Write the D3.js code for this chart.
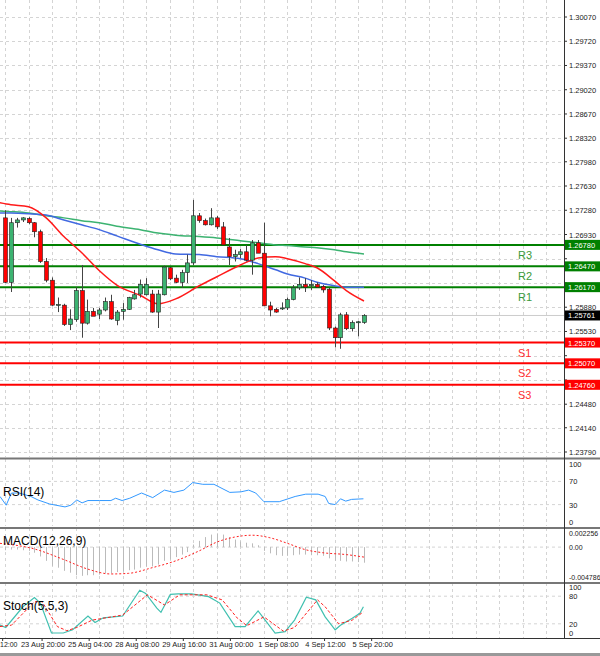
<!DOCTYPE html>
<html><head><meta charset="utf-8">
<script src="https://cdn.jsdelivr.net/npm/d3@7"></script>
<style>body{margin:0;background:#fff}svg{display:block}text{font-family:"Liberation Sans",Arial,sans-serif}</style>
</head><body>
<div id="chart"></div>
<script>
// candles [open, high, low, close], 4H bars
const candles = [
[1.2717,1.2728,1.2623,1.2624],[1.2624,1.2717,1.2610,1.2710],[1.2710,1.2717,1.2703,1.2714],[1.2714,1.2718,1.2711,1.2717],
[1.2716,1.2718,1.2708,1.2710],[1.2710,1.2711,1.2689,1.2697],[1.2697,1.2700,1.2652,1.2654],[1.2654,1.2659,1.2624,1.2627],
[1.2627,1.2631,1.2590,1.2591],[1.2591,1.2602,1.2581,1.2592],[1.2591,1.2593,1.2561,1.2563],[1.2563,1.2585,1.2555,1.2571],
[1.2570,1.2617,1.2567,1.2612],[1.2612,1.2649,1.2544,1.2565],[1.2565,1.2599,1.2563,1.2582],[1.2582,1.2587,1.2576,1.2575],
[1.2578,1.2587,1.2571,1.2584],[1.2584,1.2602,1.2582,1.2596],[1.2596,1.2606,1.2570,1.2571],[1.2569,1.2584,1.2562,1.2581],
[1.2582,1.2594,1.2570,1.2585],[1.2585,1.2603,1.2584,1.2602],[1.2600,1.2613,1.2599,1.2606],[1.2607,1.2628,1.2602,1.2621],
[1.2606,1.2630,1.2605,1.2621],[1.2607,1.2613,1.2580,1.2581],[1.2581,1.2613,1.2558,1.2607],[1.2606,1.2648,1.2605,1.2646],
[1.2645,1.2646,1.2627,1.2629],[1.2630,1.2635,1.2623,1.2624],[1.2624,1.2642,1.2616,1.2638],[1.2638,1.2664,1.2623,1.2652],
[1.2652,1.2743,1.2649,1.2720],[1.2720,1.2724,1.2710,1.2713],[1.2713,1.2716,1.2706,1.2707],[1.2707,1.2731,1.2706,1.2717],
[1.2717,1.2720,1.2701,1.2704],[1.2704,1.2711,1.2678,1.2678],[1.2675,1.2688,1.2649,1.2661],[1.2661,1.2671,1.2654,1.2664],
[1.2664,1.2672,1.2659,1.2668],[1.2668,1.2678,1.2654,1.2656],[1.2656,1.2685,1.2635,1.2681],[1.2681,1.2685,1.2667,1.2666],
[1.2666,1.2710,1.2590,1.2590],[1.2590,1.2596,1.2575,1.2584],[1.2585,1.2587,1.2580,1.2581],[1.2586,1.2595,1.2584,1.2587],
[1.2587,1.2602,1.2584,1.2599],[1.2599,1.2620,1.2598,1.2616],[1.2616,1.2631,1.2613,1.2621],[1.2621,1.2630,1.2610,1.2617],
[1.2619,1.2627,1.2613,1.2621],[1.2621,1.2624,1.2616,1.2617],[1.2618,1.2620,1.2609,1.2613],[1.2614,1.2616,1.2555,1.2558],
[1.2558,1.2560,1.2530,1.2544],[1.2544,1.2580,1.2528,1.2577],[1.2577,1.2581,1.2555,1.2557],[1.2557,1.2569,1.2553,1.2566],
[1.2566,1.2568,1.2546,1.2567],[1.2566,1.2578,1.2564,1.25761]
];
const maIdx = [-1,1,4,7,10,13,16,19,23,26,29,33,36,40,43,46,48,51,53,56,58,61];
const maFast = [1.2739,1.2736,1.2733,1.2717,1.2690,1.2667,1.2641,1.2620,1.2605,1.2593,1.2600,1.2619,1.2632,1.2649,1.2659,1.2661,1.2658,1.2651,1.2645,1.2626,1.2612,1.2597];
const maMid = [1.2724,1.2724,1.2723,1.2721,1.2714,1.2707,1.2700,1.2691,1.2679,1.2671,1.2665,1.2664,1.2661,1.2658,1.2651,1.2642,1.2636,1.2630,1.2624,1.2619,1.2617,1.2617];
const maSlow = [1.2727,1.2726,1.2724,1.2720,1.2717,1.2713,1.2710,1.2705,1.2700,1.2695,1.2692,1.2690,1.2688,1.2684,1.2681,1.2678,1.2677,1.2675,1.2674,1.2671,1.2668,1.2665];

const levels = [
  {name:"R3", v:1.26780, c:"#008000"}, {name:"R2", v:1.26470, c:"#008000"}, {name:"R1", v:1.26170, c:"#008000"},
  {name:"S1", v:1.25370, c:"#ff0000"}, {name:"S2", v:1.25070, c:"#ff0000"}, {name:"S3", v:1.24760, c:"#ff0000"}
];
const lastPrice = 1.25761;
const priceTicks = [1.30070,1.29720,1.29370,1.29020,1.28670,1.28320,1.27980,1.27630,1.27280,1.26930,1.26580,1.26230,1.25880,1.25530,1.25180,1.24830,1.24480,1.24140,1.23790];

const rsiPts = [[-0.85,44],[0.2,29],[1.1,50],[2.4,50],[4.4,44],[5.6,38],[7.6,31],[10.2,26],[11.2,29],[12.2,38],[13.1,33],[14.1,37],[16.1,37],[18,37],[18.8,41],[19.9,37],[21.2,41],[23.2,50],[25.1,42],[27.1,55],[28.7,51],[30.4,55],[31.9,68],[33.6,65],[35.5,65],[38.2,51],[40.1,52],[41.4,55],[42.6,50],[44,35],[46.6,35],[49.3,44],[51.1,48],[53.2,48],[54.4,44],[55,32],[56.1,30],[57,40],[57.9,36],[58.9,39],[60.9,40]];
const rsiTicks = [100,70,30,0];

const macdHist = [-0.0005,-0.0004,-0.0004,-0.0005,-0.0006,-0.0009,-0.0015,-0.0022,-0.0030,-0.0033,-0.0038,-0.0041,-0.0045,-0.0046,-0.0045,-0.0045,-0.0044,-0.0042,-0.0042,-0.0040,-0.0039,-0.0037,-0.0036,-0.0033,-0.0031,-0.0031,-0.0028,-0.0022,-0.0020,-0.0016,-0.0012,-0.0008,0.0004,0.0010,0.0016,0.0020,0.0022,0.0020,0.0016,0.0012,0.0009,0.0007,0.0006,0.0003,-0.0006,-0.0010,-0.0013,-0.0014,-0.0014,-0.0013,-0.0012,-0.0012,-0.0013,-0.0013,-0.0014,-0.0018,-0.0022,-0.0022,-0.0023,-0.0023,-0.0024,-0.0025];
const macdSignal = [[-0.85,0.0006],[5,-0.0003],[10,-0.0020],[14,-0.0035],[18,-0.0043],[21,-0.0042],[25,-0.0033],[29,-0.0022],[33,-0.0006],[36,0.0008],[39,0.0016],[42,0.0019],[45,0.0015],[48,0.0006],[51,-0.0004],[54,-0.0009],[58,-0.0012],[61,-0.0016]];
const macdTicks = [0.002256,0,-0.004786];

const stochMain = [[-0.85,17],[0.13,12],[3.05,57],[5,77],[6,65],[7.9,0],[9.9,0],[11.5,7],[14.1,37],[15.3,23],[16.7,33],[20,37],[22.9,93],[23.9,86],[25.8,54],[26.5,45],[28.1,84],[29.4,85],[31.7,85],[34.6,79],[36.5,65],[39.1,14],[40.8,14],[43,48],[45.9,0],[47.6,3],[49.2,28],[51.2,78],[52.8,72],[54.4,35],[56.1,7],[57,17],[59,32],[60.3,43],[60.9,57]];
const stochSignal = [[-0.85,14],[1.1,17],[5,68],[6.3,68],[8.9,14],[10.5,5],[12.2,12],[14.8,28],[20,39],[24.2,83],[27.1,61],[29.7,83],[34.3,83],[36.9,72],[39.5,32],[41.1,16],[44,35],[47.3,4],[49.2,12],[53.1,72],[54.4,57],[56.7,20],[59,28],[60.9,46]];
const stochTicks = [100,80,20,0];

const timeLabels = [[-0.4,"12:00"],[6.3,"23 Aug 20:00"],[14.3,"25 Aug 04:00"],[22.3,"28 Aug 08:00"],[30.3,"29 Aug 16:00"],[38.3,"31 Aug 00:00"],[46.3,"1 Sep 08:00"],[54.3,"4 Sep 12:00"],[62.3,"5 Sep 20:00"]];

const W = 600, H = 656, plotR = 564;
const svg = d3.select("#chart").append("svg").attr("width", W).attr("height", H);
const x = d3.scaleLinear().domain([0, 61]).range([5, 364]);

const panels = {
  main: {top: 0, bottom: 457},
  rsi: {top: 459, bottom: 526},
  macd: {top: 528, bottom: 581},
  stoch: {top: 583, bottom: 638}
};
const y = d3.scaleLinear().domain([1.23790, 1.30070]).range([452, 17]);
const yR = d3.scaleLinear().domain([0, 100]).range([522, 464]);
const yM = d3.scaleLinear().domain([-0.004786, 0.002256]).range([577, 533]);
const yS = d3.scaleLinear().domain([0, 100]).range([633, 587]);

// grid
const grid = svg.append("g").attr("stroke", "#d4d4d4").attr("stroke-dasharray", "3,3").attr("stroke-width", 1);
d3.range(-1, 95, 4).forEach(i => {
  const gx = Math.round(x(i + 1)) + 0.5;
  if (gx > 0 && gx < plotR) Object.values(panels).forEach(p =>
    grid.append("line").attr("x1", gx).attr("x2", gx).attr("y1", p.top).attr("y2", p.bottom));
});
priceTicks.forEach(t => grid.append("line").attr("x1", 0).attr("x2", plotR).attr("y1", Math.round(y(t)) + 0.5).attr("y2", Math.round(y(t)) + 0.5));
[70, 30].forEach(t => grid.append("line").attr("x1", 0).attr("x2", plotR).attr("y1", yR(t)).attr("y2", yR(t)));
[0].forEach(t => grid.append("line").attr("x1", 0).attr("x2", plotR).attr("y1", yM(t)).attr("y2", yM(t)));
[80, 20].forEach(t => grid.append("line").attr("x1", 0).attr("x2", plotR).attr("y1", yS(t)).attr("y2", yS(t)));

// last price line
svg.append("line").attr("x1", 0).attr("x2", plotR).attr("y1", y(lastPrice)).attr("y2", y(lastPrice)).attr("stroke", "#ccc");

// levels
levels.forEach(l => {
  svg.append("line").attr("x1", 0).attr("x2", plotR).attr("y1", y(l.v)).attr("y2", y(l.v)).attr("stroke", l.c).attr("stroke-width", 2);
  svg.append("text").attr("x", 518).attr("y", y(l.v) + 14).attr("fill", l.c === "#008000" ? "#3a9a3a" : "#ff3030")
    .attr("font-size", 11).text(l.name);
});

// moving averages
const maLine = vals => d3.line().x((d, i) => x(maIdx[i])).y(d => y(d)).curve(d3.curveMonotoneX)(vals);
svg.append("path").attr("d", maLine(maSlow)).attr("fill", "none").attr("stroke", "#3cb371").attr("stroke-width", 1.5);
svg.append("path").attr("d", maLine(maMid)).attr("fill", "none").attr("stroke", "#4169e1").attr("stroke-width", 1.5);
svg.append("path").attr("d", maLine(maFast)).attr("fill", "none").attr("stroke", "#ff1a1a").attr("stroke-width", 1.5);

// candles
const cg = svg.append("g");
candles.forEach((c, i) => {
  const cx = Math.round(x(i)) + 0.5, up = c[3] >= c[0];
  cg.append("line").attr("x1", cx).attr("x2", cx).attr("y1", y(c[1])).attr("y2", y(c[2])).attr("stroke", "#444");
  const top = y(Math.max(c[0], c[3])), bot = y(Math.min(c[0], c[3]));
  cg.append("rect").attr("x", cx - 2).attr("y", top).attr("width", 4).attr("height", Math.max(1, bot - top))
    .attr("fill", up ? "#3cb371" : "#ff0000").attr("stroke", "#222").attr("stroke-width", 0.6);
});

// RSI
svg.append("path").attr("d", d3.line().x(d => x(d[0])).y(d => yR(d[1]))(rsiPts)).attr("fill", "none").attr("stroke", "#3399ff").attr("stroke-width", 1);
svg.append("text").attr("x", 3).attr("y", 496).attr("font-size", 12).text("RSI(14)");

// MACD
macdHist.forEach((v, i) => {
  svg.append("line").attr("x1", Math.round(x(i)) + 0.5).attr("x2", Math.round(x(i)) + 0.5)
    .attr("y1", yM(0)).attr("y2", yM(v)).attr("stroke", "#bbb").attr("stroke-width", 1);
});
svg.append("path").attr("d", d3.line().x(d => x(d[0])).y(d => yM(d[1])).curve(d3.curveMonotoneX)(macdSignal))
  .attr("fill", "none").attr("stroke", "#ff2020").attr("stroke-width", 1).attr("stroke-dasharray", "2,2");
svg.append("text").attr("x", 3).attr("y", 545).attr("font-size", 12).text("MACD(12,26,9)");

// Stochastic
svg.append("path").attr("d", d3.line().x(d => x(d[0])).y(d => yS(d[1]))(stochMain)).attr("fill", "none").attr("stroke", "#40c0b0").attr("stroke-width", 1.2);
svg.append("path").attr("d", d3.line().x(d => x(d[0])).y(d => yS(d[1]))(stochSignal)).attr("fill", "none").attr("stroke", "#ff2020").attr("stroke-width", 1).attr("stroke-dasharray", "3,2");
svg.append("text").attr("x", 3).attr("y", 610).attr("font-size", 12).text("Stoch(5,5,3)");

// panel separators and right axis
[457.5, 527, 582].forEach(sy => svg.append("rect").attr("x", 0).attr("y", sy).attr("width", W).attr("height", 2).attr("fill", "#777"));
svg.append("line").attr("x1", plotR + 0.5).attr("x2", plotR + 0.5).attr("y1", 0).attr("y2", 638).attr("stroke", "#333");
svg.append("line").attr("x1", 0).attr("x2", W).attr("y1", 638.5).attr("y2", 638.5).attr("stroke", "#333");
svg.append("rect").attr("x", 0).attr("y", 653).attr("width", W).attr("height", 3).attr("fill", "#999");

const axisTxt = (ty, t, fs) => svg.append("text").attr("x", 569).attr("y", ty + 3).attr("font-size", fs || 7.5).attr("fill", "#222").text(t);
const tagVals = levels.map(l => l.v).concat([lastPrice]);
priceTicks.forEach(t => {
  svg.append("line").attr("x1", plotR).attr("x2", plotR + 3).attr("y1", y(t)).attr("y2", y(t)).attr("stroke", "#333");
  if (tagVals.every(v => Math.abs(y(v) - y(t)) > 8)) axisTxt(y(t), t.toFixed(5));
});
rsiTicks.forEach(t => axisTxt(yR(t), t));
macdTicks.forEach(t => axisTxt(yM(t), t === 0 ? "0.00" : t.toFixed(6), 7));
stochTicks.forEach(t => axisTxt(yS(t), t));

// tags
const tag = (v, fill) => {
  svg.append("rect").attr("x", plotR + 1).attr("y", y(v) - 5).attr("width", 35).attr("height", 10).attr("fill", fill);
  svg.append("text").attr("x", plotR + 4).attr("y", y(v) + 3).attr("font-size", 7.5).attr("fill", "#fff").text(v.toFixed(5));
};
levels.forEach(l => tag(l.v, l.c === "#008000" ? "#008000" : "#ff0000"));
tag(lastPrice, "#000");

// time axis
timeLabels.forEach(([i, t], k) => {
  const tx = x(i);
  svg.append("line").attr("x1", tx).attr("x2", tx).attr("y1", 638).attr("y2", 641).attr("stroke", "#333");
  svg.append("text").attr("x", k === 0 ? 0 : tx + 1).attr("y", 647).attr("text-anchor", k === 0 ? "start" : "middle")
    .attr("font-size", k === 0 ? 7 : 7.5).attr("fill", "#222").text(t);
});
</script>
</body></html>
